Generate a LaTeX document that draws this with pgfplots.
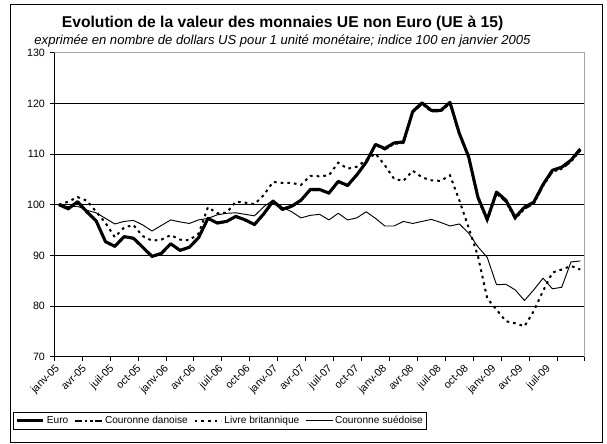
\documentclass[border=0pt]{standalone}
\usepackage{pgfplots}
\pgfplotsset{compat=1.18}
\usepackage{pgfplotstable}
\usepackage{fontspec}
\setmainfont{Liberation Sans}

\pgfplotstableread{
i euro dkk gbp sek
0 100.0 100.0 100.0 100.0
1 99.2 99.1 100.6 99.6
2 100.6 100.5 101.5 99.7
3 98.6 98.5 100.8 98.9
4 96.8 96.7 98.6 98.4
5 92.7 92.6 96.4 97.3
6 91.8 91.7 93.6 96.2
7 93.7 93.6 95.5 96.7
8 93.4 93.3 96.0 96.9
9 91.6 91.5 93.8 96.0
10 89.8 89.7 92.9 94.8
11 90.4 90.3 93.1 95.9
12 92.3 92.2 94.0 97.0
13 91.0 90.9 93.1 96.6
14 91.6 91.5 93.0 96.3
15 93.5 93.4 94.3 97.0
16 97.3 97.2 99.5 97.3
17 96.4 96.3 98.3 98.0
18 96.7 96.6 98.4 98.3
19 97.7 97.6 100.6 98.4
20 97.0 96.9 100.4 98.1
21 96.1 96.0 100.1 97.8
22 98.2 98.1 101.9 99.6
23 100.7 100.6 104.5 100.9
24 99.1 99.0 104.3 99.5
25 99.7 99.6 104.3 98.6
26 100.9 100.8 103.9 97.4
27 103.0 102.9 105.7 97.9
28 103.0 102.9 105.6 98.1
29 102.3 102.2 105.8 97.0
30 104.6 104.5 108.3 98.3
31 103.8 103.7 107.1 97.0
32 105.9 105.8 107.5 97.4
33 108.4 108.3 108.8 98.6
34 111.9 111.8 110.1 97.3
35 111.1 110.9 107.8 95.8
36 112.2 112.0 105.1 95.8
37 112.4 112.2 104.7 96.7
38 118.4 118.2 106.7 96.3
39 120.1 119.9 105.4 96.7
40 118.6 118.4 104.8 97.1
41 118.6 118.4 104.7 96.5
42 120.2 120.0 105.8 95.8
43 114.1 113.9 100.9 96.2
44 109.5 109.3 95.5 94.4
45 101.5 101.2 89.9 91.7
46 97.1 96.8 81.5 89.6
47 102.5 102.2 79.3 84.2
48 100.9 100.6 77.0 84.3
49 97.5 97.2 76.6 83.2
50 99.5 99.2 76.0 81.1
51 100.5 100.2 79.0 83.2
52 104.0 103.7 83.0 85.5
53 106.8 106.5 86.6 83.4
54 107.4 107.1 87.2 83.7
55 108.8 108.5 87.9 88.7
56 111.0 110.7 87.2 88.9
}\data

\begin{document}
\begin{tikzpicture}
\useasboundingbox (0,0) rectangle (455.25pt,332.25pt);
\fill[white] (0,0) rectangle (455.25pt,332.25pt);
\draw[black, line width=0.75pt] (7.5pt,0.75pt) rectangle (451.5pt,328.5pt);
\node[anchor=base, inner sep=0pt, font=\bfseries\fontsize{11.75}{14}\selectfont] at (211.9pt,311.25pt) {Evolution de la valeur des monnaies UE non Euro (UE à 15)};
\node[anchor=base, inner sep=0pt, font=\itshape\fontsize{9.8}{12}\selectfont] at (211.9pt,298.5pt) {exprimée en nombre de dollars US pour 1 unité monétaire; indice 100 en janvier 2005};
\begin{axis}[
  at={(40.725pt,64.725pt)}, anchor=south west,
  scale only axis, width=398pt, height=228pt,
  xmin=-0.5, xmax=56.5, ymin=70, ymax=130,
  axis x line*=bottom, axis y line*=left,
  axis line style={black, line width=0.75pt},
  ytick={70,80,...,130},
  ymajorgrids, grid style={black, line width=0.6pt},
  xtick={-0.5,2.43,5.36,8.29,11.22,14.15,17.08,20.01,22.94,25.87,28.8,31.73,34.66,37.59,40.52,43.45,46.38,49.31,52.24},
  xticklabels={janv-05,avr-05,juil-05,oct-05,janv-06,avr-06,juil-06,oct-06,janv-07,avr-07,juil-07,oct-07,janv-08,avr-08,juil-08,oct-08,janv-09,avr-09,juil-09},
  minor xtick={-0.5,2.5,...,56.5},
  tick align=outside,
  major tick length=3.5pt, minor tick length=3pt,
  major x tick style={draw=none},
  minor x tick style={black, line width=0.75pt},
  ytick style={black, line width=0.75pt},
  xticklabel style={rotate=45, anchor=north east, font=\fontsize{8}{9.6}\selectfont, inner sep=1pt},
  yticklabel style={font=\fontsize{8}{9.6}\selectfont},
  /pgf/number format/assume math mode=true,
  legend columns=-1,
  legend style={at={(-0.0784,-0.1809)}, anchor=north west, draw=black, line width=0.75pt,
    font=\fontsize{7.6}{9}\selectfont, inner xsep=1.5pt, inner ysep=1.5pt,
    nodes={inner sep=1.5pt},
    /tikz/every even column/.append style={column sep=3pt}},
  legend image code/.code={\draw[#1] (0pt,0pt) -- (20pt,0pt);},
]
\addplot[black, line width=2.3pt, line join=round] table[x=i, y=euro] {\data};
\addlegendentry{Euro}
\addplot[black, line width=1.5pt, dash pattern=on 5pt off 2pt on 2pt off 2pt on 2pt off 2pt] table[x=i, y=dkk] {\data};
\addlegendentry{Couronne danoise}
\addplot[black, line width=1.5pt, dash pattern=on 2pt off 3pt] table[x=i, y=gbp] {\data};
\addlegendentry{Livre britannique}
\addplot[black, line width=0.7pt, line join=round] table[x=i, y=sek] {\data};
\addlegendentry{Couronne suédoise}
\draw[gray!70, line width=0.75pt] (rel axis cs:0,1) -- (rel axis cs:1,1) -- (rel axis cs:1,0);
\end{axis}
\end{tikzpicture}
\end{document}
